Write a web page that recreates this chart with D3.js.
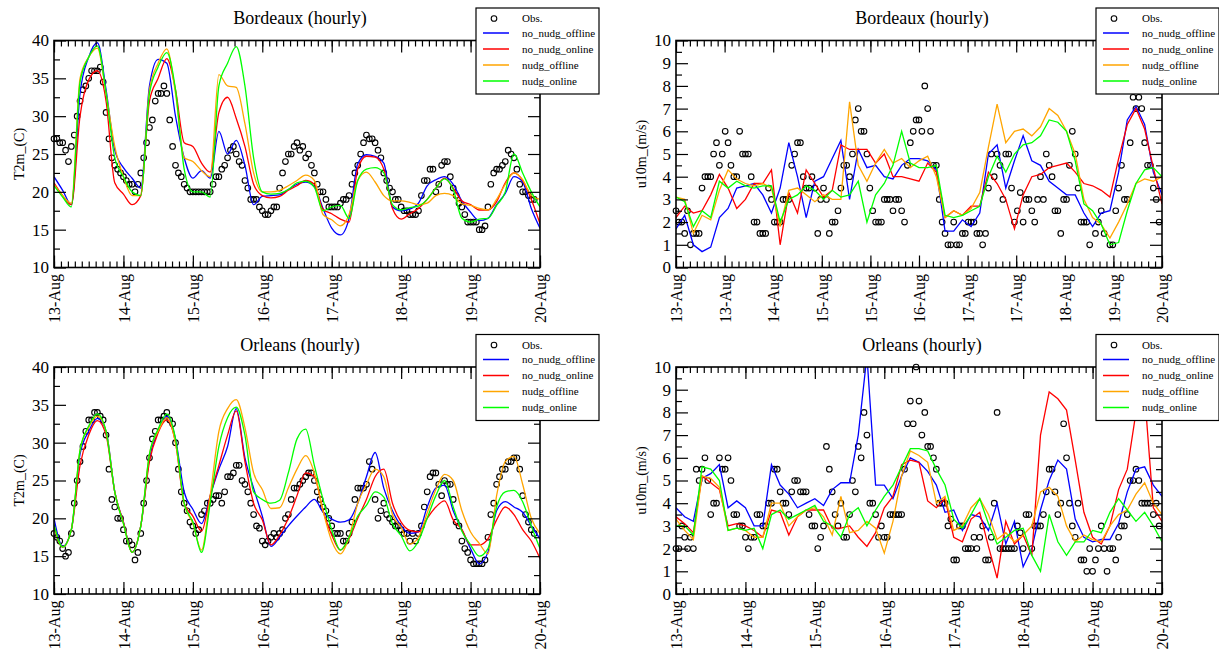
<!DOCTYPE html>
<html>
<head>
<meta charset="utf-8">
<script src="https://cdn.jsdelivr.net/npm/d3@7"></script>
<style>
  body { margin: 0; background: #fff; }
  svg text { font-family: 'Liberation Serif', 'Times New Roman', serif; }
</style>
</head>
<body>
<svg id="chart" width="1219" height="649"></svg>
<script>
// ---- data (obs hourly from 13-Aug 00h, model runs every 3 h) ----
const seriesNames = ['Obs.', 'no_nudg_offline', 'no_nudg_online', 'nudg_offline', 'nudg_online'];
const dayLabels = ['13-Aug', '14-Aug', '15-Aug', '16-Aug', '17-Aug', '18-Aug', '19-Aug', '20-Aug'];
const bdxWindTickLabels = ['13-Aug', '13-Aug', '14-Aug', '15-Aug', '15-Aug', '16-Aug', '17-Aug', '17-Aug', '18-Aug', '19-Aug', '20-Aug'];

const bdxT2mObs = [27,27,26.5,26.5,25.5,24,26,27.5,30,32,33.5,34,35,36,36,36,36.5,34.5,30.5,27,24.5,23.5,23,22.5,
  22,21.5,21,21,20,21,22.5,24.5,26.5,28.5,29.5,32,33,33,34,33,29.5,26,23.5,22.5,22,21,20.5,20,
  20,20,20,20,20,20,20,21,22,22,23,23.5,24.5,25.5,26,25,24,23.5,21.5,20.5,19,19,19,18,
  17.5,17,17,17.5,18,18,20.5,22.5,24,25,25,26,26.5,25.5,26,24.5,25,23.5,22.5,21,20,20,19,18,
  18,18,18,18.5,19,19,19.5,21,22.5,23.5,25,26.5,27.5,27,27,26.5,25.5,24.5,22.5,21.5,20.5,20,19,19,
  18,17.5,17.5,17,17,17,17.5,19.5,21.5,21.5,23,23,20,21,23.5,24,24,22,20.5,19.5,18.5,18,17,16,
  16,16,16,15,15,15.5,18,21,22.5,23,23,23.5,24,25.5,25,24.5,23,21,20,20,19.5,19,19];
const bdxT2mNoNudgOff = [22,20.2,18.3,33,37.8,39.7,33.5,25.5,23.2,21.8,20.5,34,37.5,37,30,24.5,21.8,22.8,21.8,28,
  25,26.8,23.5,18.3,19.4,19.5,19.6,20.3,21,21.3,20.7,17.8,15.2,14.3,16.5,23.7,24.9,24.7,23.8,18,
  17.5,17.7,18.5,20.8,21.6,22,21,18.8,17.3,16.2,16.5,18.3,19.8,22,21.3,17.8,15.2];
const bdxT2mNoNudgOn = [21.2,19.5,18.3,30,34.8,36,32,21.2,19.7,18.3,19.5,32,35,37.6,33.5,26.5,26,23.8,22.6,30.5,
  32.5,29.7,26,21,19.5,19.2,19.4,20.2,20.8,21.5,21,17.7,17.1,16.4,16,23,24.7,24.6,23,17.8,
  16.4,17.1,17.8,19,20.5,21.8,20.5,18.8,18.3,17.6,17.6,18.7,21.2,22.5,21.5,19,15.8];
const bdxT2mNudgOff = [21,19.5,18.5,35,37.8,39,33,26,22,19.5,19.5,33.5,37,38.9,33,24.5,24,22.8,22,35.5,
  34,33.8,29,22.5,20,20,20.2,20.8,21.5,22.2,21.5,17,16.3,15.5,17,21.5,22.6,21.3,19.5,18.8,
  18.8,18.6,18.3,18.5,19.5,19.8,19.5,18.4,18.2,17.8,17.6,19,21,22.5,21.6,19.5,19];
const bdxT2mNudgOn = [20.8,19.3,18,34.5,37.8,39.3,33,24.5,22,20,19.5,33,36.5,38.4,33.5,23,20,20,19.3,34,
  37,39.2,34,24.5,20,19.7,19.8,20.3,21.2,21.4,20.6,17.5,18,18.2,16.5,21.5,23,23.2,22.5,18.3,
  17.6,17.9,18.1,19,20.5,21.7,20.3,16.5,16,16.4,16.5,18.2,20,25,22.5,20,18];

const bdxU10mObs = [2.5,2,2,1.5,2.5,1,1.5,1.5,1.5,3.5,4,4,4,5,5.5,4.5,5,6,5.5,4.5,4,4,6,5,
  5,5,4,2,2,1.5,1.5,1.5,3.5,3,2,2,2,3,3,3,4.5,5,5.5,5.5,4,3.5,3.5,4,
  3.5,1.5,3,3.5,3,1.5,2,2,2.5,3.5,4.5,4.5,4,5,6.5,7,6,6,5,3.5,2.5,2,2,2,
  3,3,3,2.5,3,3,2.5,2,4.5,5.5,6,6.5,6.5,6,8,7,6,4.5,4.5,3,2,1.5,1,1,
  2,1,1,1.5,1.5,2,2,2,1.5,1.5,1,1.5,3.5,5,4,5,4.5,3,5,5,3.5,2,2.5,3.3,
  2,3,3,2.5,2,3,4,3,5,4.5,4,2.5,2.5,1.5,3,3,4.5,6,5,3.5,2,2,2,1,
  null,1.5,2,2.5,1.5,null,1,1,2.5,3.5,4.5,3,3,5.5,7.5,7,7.5,7,5.5,4.5,4.5,3.5,3,2];
const bdxU10mNoNudgOff = [1.7,2.3,1,0.7,0.9,2.2,2.6,3.5,3.6,3.7,3.2,2.4,3.5,5.5,4,2.2,3.8,4,4.8,5.6,
  3,5.2,4.4,4.5,4,3.9,4.5,4.8,4.8,4.7,4.3,1.6,1.6,2.1,1.8,2.4,5,5.4,3.5,4.7,
  5.8,4.7,4.5,3.8,3.5,3.2,3.2,2.4,1.8,2.4,2.5,4.2,6.5,7.1,6.3,4.2,3.2];
const bdxU10mNoNudgOn = [2.2,2.7,2.4,2.5,3.2,4.1,3.5,2.6,3,3.7,3.7,4.3,1,3.3,2.4,4.3,3.7,3.1,3.4,5.4,
  5.2,5.2,5.2,4.6,5,4,4,3.9,3.8,4.6,4.2,2.2,2.5,2.3,2.7,2.7,4.2,3.7,3,1.7,
  3.2,4,4.1,4.4,4.5,4.6,4.2,3.7,3.6,3.4,3.1,4.8,6.3,7,6.1,4.4,2.8];
const bdxU10mNudgOff = [3.1,3,1.5,2.3,2.1,3.4,4.3,3.9,3.7,3.6,3.7,3.5,1.8,3.4,3.5,3.2,2.9,3.2,3,3,
  7.3,4.5,3.8,4.6,5.2,4.6,4.8,4.4,4.7,4.9,4,2.2,2.5,2.3,2.6,3.3,5.3,7.2,5.5,6,
  6.1,5.8,6.2,7,6.7,6,5,3,2.2,1.9,1.3,2,2.8,3.7,3.9,3.8,4];
const bdxU10mNudgOn = [3.1,2.9,1.8,2.5,2.2,3.8,3.5,3.8,3.6,3.5,3.6,3.6,2,3,3.2,3.6,3.4,3,3.4,3.1,
  3.2,3.8,2,3.2,3.7,4.5,6,4.6,4.4,4.4,4.5,2.3,2.2,2.3,2.5,2.7,4,4.9,4.2,5,
  5.4,5.5,5.8,6.5,6.4,6,4.7,2.8,2.5,1.9,1,1.1,2.5,3.7,4.3,4.4,4];

const orlT2mObs = [18,17.5,17,16,15,15.5,18,22,25,27.5,29.5,31.5,33,33,34,34,33.5,33,31,26.5,22.5,21.5,20,20,
  18.5,17,17,16.5,14.5,15.5,18,22,25,28,30.5,31.5,33,33,33.5,34,33,32.5,30,26.5,23.5,22,21,19.5,
  19,18,18.5,20.5,21,22,22,22.5,23,23,22,23.5,25.5,25.5,26,27,27,25,24.5,23.5,22,20.5,19,18.7,
  17,16.5,17,17.5,18,17.5,18,18.5,20,20.5,22.5,24,24,24.5,25,25.5,26,26,25,23.5,22.5,21.5,21,20,
  19,18,18,18,17,17,18,19.5,22.5,24,24,24,24.5,27.5,26.5,22.5,20,21,22,20.5,20,19.5,19,19,
  18.5,18,18,17,18,17,18,19,21.5,23.5,25.5,26,26,24.5,23,25,24.5,24.5,22.5,19.5,19,17,16,15.5,
  14.5,14,14,14,14,14.5,17.5,20.5,22,24.5,25.5,26.5,26.5,27.5,27.5,28,28,26.5,23,20.5,19.5,18.5,18];
const orlT2mNoNudgOff = [20,16.3,18.5,28.5,31.5,33.2,31.5,23.5,19.5,15.5,19,28,31.5,33.5,30.5,23.5,21.2,19.3,23,26.5,
  29.5,34.5,28,24,20.3,16.3,17.5,19,20.3,21.5,22.5,20.8,19.9,19.5,19.8,22,25.5,28.7,24,21,
  19,18,18.2,21.5,24,24.4,21,18.5,16,14,15.5,21,22.2,21.5,20.8,19,17.3];
const orlT2mNoNudgOn = [19,16.2,18.5,27,31,32.9,31,23.5,19.5,15.5,19,27.5,31.3,33,30,22,20.3,18.3,23,27,
  31,34.2,27.5,22,19.8,16.5,17.8,20,23,26,25.5,21,17.8,15.8,17.3,20,22.5,25.5,26.5,22,
  19.5,18.4,18.2,20,21.5,22.3,19.8,18.5,16.5,16.5,17.3,19.8,21.5,20.5,18.5,17,14.7];
const orlT2mNudgOff = [19,16.2,18.5,29,32,33.5,31.5,23.5,19.3,15.5,19,28.5,31.5,33.3,30,22,19.3,15.8,23,31.5,
  34.5,35.7,32,26,23.8,21.3,21.4,24,26.5,28.3,26,21,17,15.3,17.5,22,24.5,26.5,25.5,20.5,
  18.8,16.6,17.5,20.7,23.8,25.8,25,21,18.2,16.7,15.3,23,27.5,28.2,24.5,20,18];
const orlT2mNudgOn = [19.2,16.2,18.5,29,32.2,33.8,31.5,23.5,19.3,15.5,19,28.5,31.8,33.8,30.5,22,19.5,15.5,22,29.5,
  33.3,34.7,31,23.5,22.5,22,22.4,26,30.5,31.8,27,22.5,18.5,15.8,17.5,20.3,21.7,23.5,22.8,19.3,
  17.7,15.7,17,20,23,25,21.5,18.3,16.5,15,16,21.5,23.5,23.7,22.2,19,16];

const orlU10mObs = [2,2,3,2.5,2,2.5,2,5.5,5,5.5,6,5,3.5,4,4,6,5.5,5.5,6,5,3.5,3.5,3,3,
  2.5,2,2.5,2.5,3.5,3.5,3,3,4,4,5.5,5.5,4.5,4,4,3.5,4.5,5,5,4.5,4.5,4.5,3.5,3,
  3,2,2.5,3,6.5,5.5,4.5,3.5,3,4,2.5,2.5,3.5,5,4.5,6.5,6,8,7,4,4,3.5,2.5,3,
  2.5,2.5,3.5,3.5,3.5,3.5,3.5,5.5,7.5,8.5,7.5,10,8.5,7,8,6.5,6.5,6,5.5,4,4,4,3,3.3,
  1.5,1.5,3,3,2,2,2,2.5,2,2.5,3,1.5,1.5,2.5,4,8,2,2,2,2,2,2,3,2.7,
  2,3.5,3.5,2,3,3,3,3.5,4.5,5.5,5.5,4.5,3.5,4,7.5,6,4,3,2.5,4,1.5,1.5,1,2,
  1,1.5,2,3,2,1,2,2,1.5,2.5,3,3,3.5,5,5,5.5,5,4,4,4,4,3.5,4,3];
const orlU10mNoNudgOff = [3.8,3.4,3.2,5.1,5.3,5.7,3.8,4.1,3.8,3,3,5.7,4.8,4.4,3.8,4,4.2,3.9,4.6,4.9,
  4.9,7,10.5,4.8,4.8,4.2,5.2,6,5.8,5.4,4.8,3.6,3.7,2.8,3.5,3.4,2.8,4,2.2,3.2,
  1.2,2,3.7,5,5.9,5.5,3.3,2.5,2.3,2.4,2.4,3.1,4.5,5.5,5.6,4.8,4.3];
const orlU10mNoNudgOn = [3.4,3.1,2.7,5.2,4.9,4.6,3,3.1,3,2.8,2.5,3.7,3.6,2.6,3.4,3.7,3.7,3.7,2.9,2.9,
  3,2.5,2.1,2.7,3.8,4.3,5.7,5.9,5.8,4.1,3.8,4.2,2.5,2.3,3.3,3.6,2.1,0.7,3.2,2.2,
  2.6,1.7,7,8.9,8.6,8.1,5.9,3.6,2.5,2.2,3,4.6,5.5,8,8.8,3.8,3.2];
const orlU10mNudgOff = [3.3,2.8,2.4,5.2,5.1,4.7,2.8,2.9,2.8,2.5,2.5,4,4,3,3.4,3.7,3.8,3.4,2.6,4.3,
  2.7,2.8,3.2,2.9,1.8,3.2,5.2,6.3,6.1,5.8,4,4.3,2.8,3,3.8,4.2,3.5,2.4,2.7,2.3,
  2.6,3,4.5,4.7,4.3,3,2.3,2.6,2.4,2.3,3,3.5,3.7,4.4,4.9,4,3.5];
const orlU10mNudgOn = [3,3,2.6,5.6,5.5,5,2.8,2.9,2.8,2.9,2,3.5,3.7,3.3,3.5,3.7,3.9,3.2,3,2.5,
  3.5,3.8,3,3.7,4.3,4.8,5.6,6.4,6.4,6.3,5.5,4.8,3.3,2.9,3.5,4.2,3.1,2.2,2.5,2.8,
  2.9,1.7,1,3.5,2.3,1.7,2.3,2.3,2.8,2.7,3.6,4.2,3.7,3.2,3.6,3,2.3];

const obsStepHours = 1;
const modelStepHours = 3;

// ---- drawing ----
const FONT = "'Liberation Serif', 'Times New Roman', serif";
const svg = d3.select('#chart');
const lineColors = ['#0000ff', '#ff0000', '#ffa500', '#00ff00'];
const plotW = 486, plotH = 227;

function drawPanel(p) {
  const x = d3.scaleLinear().domain([0, 168]).range([p.left, p.left + plotW]);
  const y = d3.scaleLinear().domain(p.yDomain).range([p.top + plotH, p.top]);
  const g = svg.append('g');

  const clipId = 'clip' + p.id;
  g.append('clipPath').attr('id', clipId)
    .append('rect').attr('x', p.left).attr('y', p.top).attr('width', plotW).attr('height', plotH);

  // obs circles
  g.append('g').selectAll('circle')
    .data(p.obs.map((v, i) => ({ h: i * obsStepHours, v })).filter(d => d.v != null))
    .enter().append('circle')
    .attr('cx', d => x(d.h))
    .attr('cy', d => y(d.v))
    .attr('r', 2.8)
    .attr('fill', 'none')
    .attr('stroke', '#000')
    .attr('stroke-width', 1.1);

  // model lines
  const line = d3.line()
    .defined(d => d != null)
    .x((d, i) => x(i * modelStepHours))
    .y(d => y(d))
    .curve(p.curve);
  const lines = g.append('g').attr('clip-path', `url(#${clipId})`);
  p.runs.forEach((run, k) => {
    lines.append('path')
      .attr('d', line(run))
      .attr('fill', 'none')
      .attr('stroke', lineColors[k])
      .attr('stroke-width', 1.3);
  });

  // axes, ticks pointing inward on all sides
  const minorX = d3.range(0, 168.01, 2.4);
  const bottom = p.top + plotH, right = p.left + plotW;
  const styleAxis = sel => {
    sel.select('.domain').remove();
    sel.selectAll('line').attr('stroke', '#000').attr('stroke-width', 1.2);
    sel.attr('font-family', FONT).attr('font-size', null);
  };

  g.append('g').attr('transform', `translate(0,${bottom})`)
    .call(d3.axisBottom(x).tickValues(minorX).tickSize(-6).tickFormat(''))
    .call(styleAxis);
  const xb = g.append('g').attr('transform', `translate(0,${bottom})`)
    .call(d3.axisBottom(x).tickValues(p.xMajor).tickSize(-12).tickFormat((d, i) => p.xLabels[i]))
    .call(styleAxis);
  xb.selectAll('text')
    .attr('transform', 'rotate(-90)')
    .attr('x', -6.5).attr('y', 0).attr('dy', '0.36em')
    .style('text-anchor', 'end')
    .style('font-size', '16px')
    .attr('fill', '#000');

  g.append('g').attr('transform', `translate(0,${p.top})`)
    .call(d3.axisTop(x).tickValues(minorX).tickSize(-6).tickFormat(''))
    .call(styleAxis);
  g.append('g').attr('transform', `translate(0,${p.top})`)
    .call(d3.axisTop(x).tickValues(p.xMajor).tickSize(-12).tickFormat(''))
    .call(styleAxis);

  g.append('g').attr('transform', `translate(${p.left},0)`)
    .call(d3.axisLeft(y).tickValues(p.yMinor).tickSize(-6).tickFormat(''))
    .call(styleAxis);
  const yl = g.append('g').attr('transform', `translate(${p.left},0)`)
    .call(d3.axisLeft(y).tickValues(p.yMajor).tickSize(-12).tickPadding(5).tickFormat(d3.format('d')))
    .call(styleAxis);
  yl.selectAll('text').style('font-size', '17px').attr('fill', '#000');

  g.append('g').attr('transform', `translate(${right},0)`)
    .call(d3.axisRight(y).tickValues(p.yMinor).tickSize(-6).tickFormat(''))
    .call(styleAxis);
  g.append('g').attr('transform', `translate(${right},0)`)
    .call(d3.axisRight(y).tickValues(p.yMajor).tickSize(-12).tickFormat(''))
    .call(styleAxis);

  // frame
  g.append('rect')
    .attr('x', p.left).attr('y', p.top).attr('width', plotW).attr('height', plotH)
    .attr('fill', 'none').attr('stroke', '#000').attr('stroke-width', 1.6);

  // title and y label
  g.append('text')
    .attr('x', p.left + plotW / 2 + 3).attr('y', p.top - 16.5)
    .attr('text-anchor', 'middle').style('font-size', '18px')
    .text(p.title);
  g.append('text')
    .attr('transform', `translate(${p.left - 30},${p.top + plotH / 2}) rotate(-90)`)
    .attr('text-anchor', 'middle').style('font-size', '14px')
    .text(p.ylabel);

  // legend
  const lx = p.left + p.legendDx, ly = p.top - 32.5;
  const lg = g.append('g').attr('transform', `translate(${lx},${ly})`);
  lg.append('rect').attr('width', 123).attr('height', 86)
    .attr('fill', '#fff').attr('stroke', '#000').attr('stroke-width', 1.2);
  const rowY = [10.5, 25, 41, 57, 73];
  seriesNames.forEach((name, i) => {
    if (i === 0) {
      lg.append('circle').attr('cx', 18).attr('cy', rowY[i]).attr('r', 2.8)
        .attr('fill', 'none').attr('stroke', '#000').attr('stroke-width', 1.1);
    } else {
      lg.append('line').attr('x1', 7).attr('x2', 33).attr('y1', rowY[i]).attr('y2', rowY[i])
        .attr('stroke', lineColors[i - 1]).attr('stroke-width', 1.5);
    }
    lg.append('text').attr('x', 46).attr('y', rowY[i]).attr('dy', '0.35em')
      .style('font-size', '11px').text(name);
  });
}

const dailyTicks = dayLabels.map((d, i) => i * 24);
const bdxWindTicks = bdxWindTickLabels.map((d, i) => i * 16.8);

drawPanel({
  id: 1, left: 54, top: 40.5, legendDx: 422,
  title: 'Bordeaux (hourly)', ylabel: 'T2m_(C)',
  yDomain: [10, 40], yMajor: d3.range(10, 41, 5), yMinor: d3.range(12.5, 40, 5),
  xMajor: dailyTicks, xLabels: dayLabels, curve: d3.curveMonotoneX,
  obs: bdxT2mObs, runs: [bdxT2mNoNudgOff, bdxT2mNoNudgOn, bdxT2mNudgOff, bdxT2mNudgOn]
});
drawPanel({
  id: 2, left: 676, top: 40.5, legendDx: 420,
  title: 'Bordeaux (hourly)', ylabel: 'u10m_(m/s)',
  yDomain: [0, 10], yMajor: d3.range(0, 11, 1), yMinor: d3.range(0.5, 10, 1),
  xMajor: bdxWindTicks, xLabels: bdxWindTickLabels, curve: d3.curveLinear,
  obs: bdxU10mObs, runs: [bdxU10mNoNudgOff, bdxU10mNoNudgOn, bdxU10mNudgOff, bdxU10mNudgOn]
});
drawPanel({
  id: 3, left: 54, top: 367, legendDx: 422,
  title: 'Orleans (hourly)', ylabel: 'T2m_(C)',
  yDomain: [10, 40], yMajor: d3.range(10, 41, 5), yMinor: d3.range(12.5, 40, 5),
  xMajor: dailyTicks, xLabels: dayLabels, curve: d3.curveMonotoneX,
  obs: orlT2mObs, runs: [orlT2mNoNudgOff, orlT2mNoNudgOn, orlT2mNudgOff, orlT2mNudgOn]
});
drawPanel({
  id: 4, left: 676, top: 367, legendDx: 420,
  title: 'Orleans (hourly)', ylabel: 'u10m_(m/s)',
  yDomain: [0, 10], yMajor: d3.range(0, 11, 1), yMinor: d3.range(0.5, 10, 1),
  xMajor: dailyTicks, xLabels: dayLabels, curve: d3.curveLinear,
  obs: orlU10mObs, runs: [orlU10mNoNudgOff, orlU10mNoNudgOn, orlU10mNudgOff, orlU10mNudgOn]
});

// force the serif face on every label
svg.selectAll('text').style('font-family', FONT);
</script>
</body>
</html>
